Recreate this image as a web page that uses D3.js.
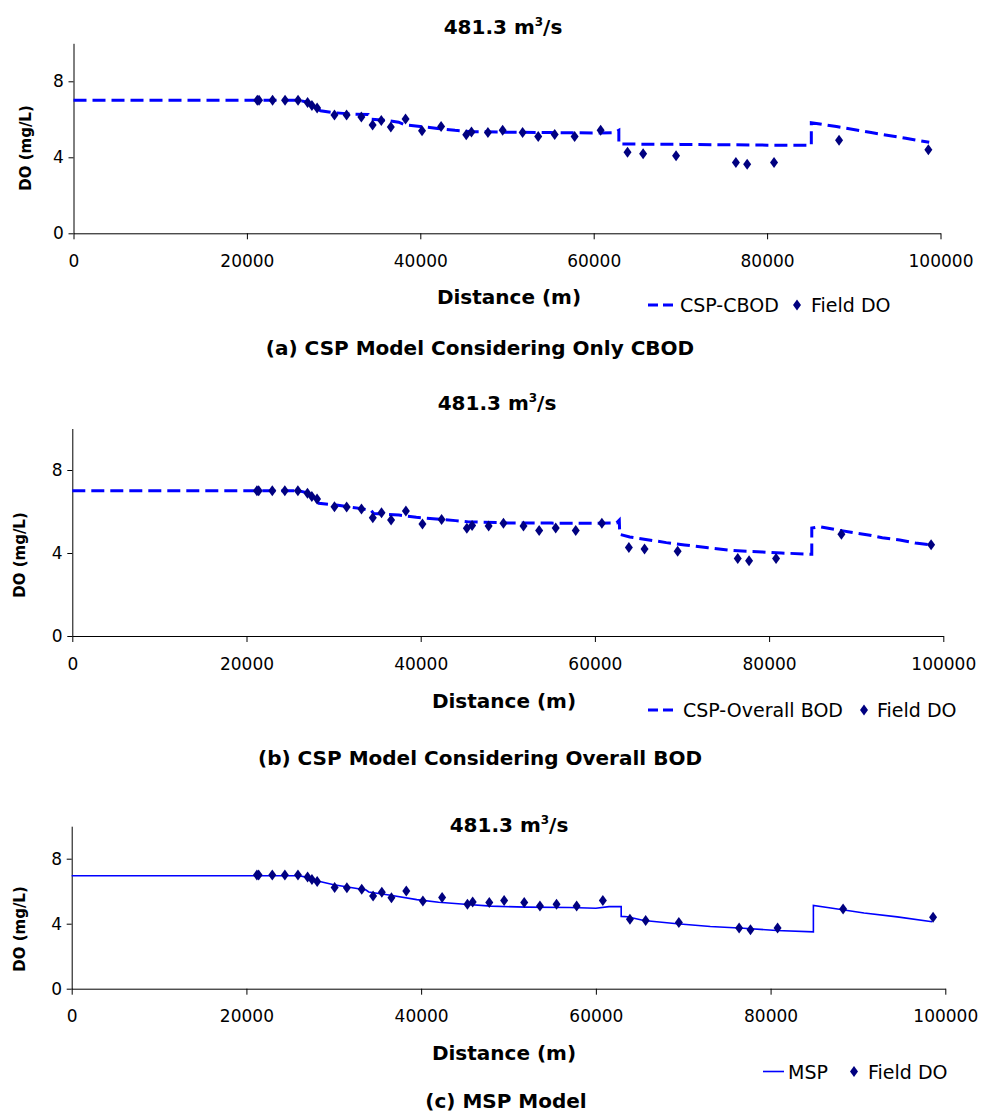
<!DOCTYPE html>
<html>
<head>
<meta charset="utf-8">
<script src="https://cdn.jsdelivr.net/npm/d3@7"></script>
<style>
  body { margin: 0; background: #fff; }
  text { font-family: "DejaVu Sans", sans-serif; fill: #000; }
</style>
</head>
<body>
<script>
// axis ticks
var distanceTicks = [0, 20000, 40000, 60000, 80000, 100000];
var doTicks = [0, 4, 8];

// field measurements (same in all three panels)
var fieldDist = [21200, 21400, 22960, 24400, 25900, 27000, 27500, 28100, 30100, 31500,
  33200, 34500, 35500, 36600, 38300, 40200, 42400, 45300, 45900, 47800,
  49500, 51800, 53600, 55500, 57800, 60800, 63900, 65700, 69500, 76400,
  77700, 80800, 88300, 98600];
var fieldDO = [7.0, 7.0, 7.0, 7.0, 7.0, 6.88, 6.72, 6.6, 6.23, 6.22,
  6.12, 5.7, 5.94, 5.59, 6.02, 5.4, 5.62, 5.19, 5.33, 5.3,
  5.43, 5.3, 5.09, 5.2, 5.09, 5.43, 4.27, 4.19, 4.08, 3.73,
  3.63, 3.73, 4.9, 4.4];

// (a) CSP model, CBOD only
var cbodDist = [0, 26000, 27000, 28000, 28500, 30000, 32000, 34000, 34300, 36000,
  37500, 38300, 40000, 42000, 44000, 46000, 50000, 55000, 60000, 62400,
  62900, 62900, 70000, 80000, 85100, 85100, 88000, 92000, 96000, 98700];
var cbodDO = [7.0, 7.0, 6.9, 6.6, 6.45, 6.35, 6.28, 6.25, 6.0, 5.95,
  5.85, 5.7, 5.62, 5.52, 5.42, 5.35, 5.32, 5.3, 5.28, 5.3,
  5.42, 4.7, 4.68, 4.64, 4.63, 5.82, 5.62, 5.3, 5.0, 4.79];

// (b) CSP model, overall BOD
var overallDist = [0, 26000, 27000, 28300, 30500, 33000, 34300, 34600, 37500, 39500,
  41800, 44000, 45500, 50000, 55000, 60000, 62500, 62800, 62850, 64000,
  66200, 68200, 70300, 73000, 75500, 77400, 79200, 81400, 84900, 84900,
  85800, 87700, 89400, 91400, 93000, 95000, 96800, 98600];
var overallDO = [7.0, 7.0, 6.9, 6.4, 6.3, 6.15, 6.05, 5.9, 5.83, 5.72,
  5.64, 5.56, 5.5, 5.45, 5.44, 5.43, 5.45, 5.58, 4.9, 4.77,
  4.63, 4.5, 4.39, 4.25, 4.13, 4.08, 4.05, 4.0, 3.94, 5.2,
  5.27, 5.12, 5.0, 4.87, 4.74, 4.63, 4.48, 4.39];

// (c) MSP model
var mspDist = [0, 26000, 27000, 28400, 30000, 33700, 34000, 36500, 39500, 42000,
  45000, 48000, 52000, 57000, 60000, 61500, 62900, 62900, 63600, 65500,
  69300, 73100, 76900, 80700, 84900, 84900, 86900, 90700, 94500, 98500];
var mspDO = [6.95, 6.95, 6.85, 6.6, 6.4, 6.07, 5.95, 5.75, 5.48, 5.32,
  5.2, 5.08, 5.02, 5.0, 4.95, 5.05, 5.05, 4.45, 4.43, 4.2,
  4.0, 3.83, 3.72, 3.58, 3.5, 5.12, 4.97, 4.66, 4.42, 4.12];

var svg = d3.select("body").append("svg")
    .attr("width", 997)
    .attr("height", 1117);

svg.append("rect").attr("width", 997).attr("height", 1117).attr("fill", "#fff");

// panel layouts
var panels = [
  { left: 73.5, right: 940.5, bottom: 233.3, top: 43.3,
    dist: cbodDist, vals: cbodDO, dash: "13,6", lw: 3,
    title: [503, 34], xlab: [509, 304], ylab: [31, 148],
    leg: { y: 305, x0: 648, x1: 676, t1: 680, d: 797, t2: 811, name: "CSP-CBOD" },
    caption: [480, 355, "(a) CSP Model Considering Only CBOD"] },
  { left: 72.3, right: 943.3, bottom: 636, top: 428.5,
    dist: overallDist, vals: overallDO, dash: "13,6", lw: 3,
    title: [497, 410], xlab: [504, 708], ylab: [25, 555],
    leg: { y: 710, x0: 648, x1: 678, t1: 683, d: 864, t2: 877, name: "CSP-Overall BOD" },
    caption: [480, 765, "(b) CSP Model Considering Overall BOD"] },
  { left: 71.7, right: 945.3, bottom: 988.7, top: 826.2,
    dist: mspDist, vals: mspDO, dash: null, lw: 1.6,
    title: [509, 832], xlab: [504, 1060], ylab: [25, 929],
    leg: { y: 1071.5, x0: 763, x1: 784, t1: 788, d: 854, t2: 868, name: "MSP" },
    caption: [506, 1108, "(c) MSP Model"] }
];

function diamond(cx, cy) {
  return "M" + cx + "," + (cy - 5.5) + "L" + (cx + 4) + "," + cy +
    "L" + cx + "," + (cy + 5.5) + "L" + (cx - 4) + "," + cy + "Z";
}

panels.forEach(function(p) {
  var x = d3.scaleLinear().domain([0, 100000]).range([p.left, p.right]);
  var y = d3.scaleLinear().domain([0, 10]).range([p.bottom, p.top]);
  var g = svg.append("g");

  // x axis
  var xa = g.append("g")
      .attr("transform", "translate(0," + p.bottom + ")")
      .call(d3.axisBottom(x).tickValues(distanceTicks).tickFormat(d3.format("d"))
        .tickSize(6).tickSizeOuter(0));
  xa.select(".domain").attr("stroke", "#000");
  xa.selectAll("text").attr("font-size", 17).attr("dy", "1.45em");

  // y axis
  var ya = g.append("g")
      .attr("transform", "translate(" + p.left + ",0)")
      .call(d3.axisLeft(y).tickValues(doTicks).tickSize(5).tickSizeOuter(0));
  ya.select(".domain").attr("stroke", "#000");
  ya.selectAll("text").attr("font-size", 17).attr("dx", "-0.1em");

  g.selectAll(".tick line").attr("stroke", "#000");

  // model line
  var line = d3.line()
      .x(function(d) { return x(d[0]); })
      .y(function(d) { return y(d[1]); });
  var pts = p.dist.map(function(d, i) { return [d, p.vals[i]]; });
  g.append("path")
      .datum(pts)
      .attr("d", line)
      .attr("fill", "none")
      .attr("stroke", "#0000ff")
      .attr("stroke-width", p.lw)
      .attr("stroke-dasharray", p.dash);

  // field DO
  g.selectAll(".pt")
      .data(fieldDist)
    .enter().append("path")
      .attr("d", function(d, i) { return diamond(x(d), y(fieldDO[i])); })
      .attr("fill", "#000080");

  // title
  var t = g.append("text")
      .attr("x", p.title[0]).attr("y", p.title[1])
      .attr("text-anchor", "middle")
      .attr("font-size", 20).attr("font-weight", "bold");
  t.append("tspan").text("481.3 m");
  t.append("tspan").attr("font-size", 12).attr("dy", -8).text("3");
  t.append("tspan").attr("dy", 8).text("/s");

  // axis labels
  g.append("text")
      .attr("x", p.xlab[0]).attr("y", p.xlab[1])
      .attr("text-anchor", "middle")
      .attr("font-size", 20).attr("font-weight", "bold")
      .text("Distance (m)");
  g.append("text")
      .attr("transform", "translate(" + p.ylab[0] + "," + p.ylab[1] + ") rotate(-90)")
      .attr("text-anchor", "middle")
      .attr("font-size", 15).attr("font-weight", "bold")
      .text("DO (mg/L)");

  // legend
  var L = p.leg;
  g.append("line")
      .attr("x1", L.x0).attr("x2", L.x1).attr("y1", L.y).attr("y2", L.y)
      .attr("stroke", "#0000ff")
      .attr("stroke-width", p.dash ? 3 : 1.6)
      .attr("stroke-dasharray", p.dash ? "10,5" : null);
  g.append("text")
      .attr("x", L.t1).attr("y", L.y + 7)
      .attr("font-size", 19)
      .text(L.name);
  g.append("path")
      .attr("d", diamond(L.d, L.y))
      .attr("fill", "#000080");
  g.append("text")
      .attr("x", L.t2).attr("y", L.y + 7)
      .attr("font-size", 19)
      .text("Field DO");

  // caption
  g.append("text")
      .attr("x", p.caption[0]).attr("y", p.caption[1])
      .attr("text-anchor", "middle")
      .attr("font-size", 20).attr("font-weight", "bold")
      .text(p.caption[2]);
});
</script>
</body>
</html>
